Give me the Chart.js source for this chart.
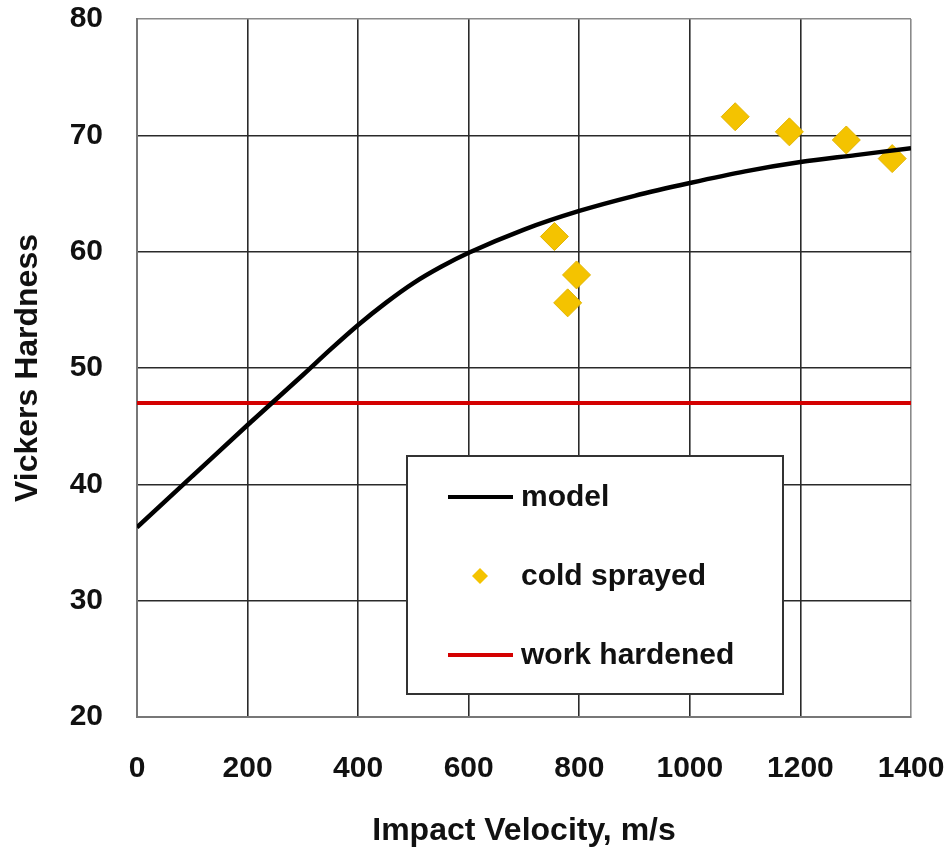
<!DOCTYPE html>
<html>
<head>
<meta charset="utf-8">
<title>Vickers Hardness vs Impact Velocity</title>
<script src="https://cdn.jsdelivr.net/npm/chart.js@4/dist/chart.umd.min.js"></script>
<style>
  html, body { margin: 0; padding: 0; background: #fff; }
  #wrap { width: 948px; height: 848px; position: relative; }
</style>
</head>
<body>
<div id="wrap"><canvas id="hardnessChart"></canvas></div>
<script>
// data
const modelVelocity = [0, 100, 200, 300, 350, 400, 450, 500, 550, 600, 700, 800, 900, 1000, 1100, 1200, 1300, 1400];
const modelHardness = [36.3, 40.7, 45.1, 49.4, 51.6, 53.7, 55.6, 57.3, 58.7, 59.9, 61.9, 63.5, 64.8, 65.9, 66.9, 67.7, 68.3, 68.9];

const sprayedVelocity = [755, 779, 795, 1082, 1180, 1283, 1366];
const sprayedHardness = [61.3, 55.6, 58.0, 71.6, 70.3, 69.6, 68.0];

const workHardenedVelocity = [0, 1400];
const workHardenedHardness = [47, 47];

const xTicks = [0, 200, 400, 600, 800, 1000, 1200, 1400];
const yTicks = [20, 30, 40, 50, 60, 70, 80];

const FONT = "'Liberation Sans', Arial, sans-serif";

const toPoints = (xs, ys) => xs.map((x, i) => ({ x: x, y: ys[i] }));

// legend box inside the plot, drawn over the grid
const boxLegend = {
  id: "boxLegend",
  afterDatasetsDraw(chart) {
    const { ctx, chartArea } = chart;
    const left = chartArea.left + 270;
    const top = chartArea.top + 437;
    const w = 376;
    const h = 238;

    ctx.save();
    ctx.fillStyle = "#fff";
    ctx.fillRect(left, top, w, h);
    ctx.strokeStyle = "#333";
    ctx.lineWidth = 2;
    ctx.strokeRect(left, top, w, h);

    ctx.font = "bold 30px " + FONT;
    ctx.textBaseline = "middle";

    chart.data.datasets.forEach((ds, i) => {
      const y = top + 41 + i * 79;
      if (ds.showLine === false) {
        const cx = left + 73;
        ctx.fillStyle = ds.backgroundColor;
        ctx.beginPath();
        ctx.moveTo(cx - 8, y);
        ctx.lineTo(cx, y - 8);
        ctx.lineTo(cx + 8, y);
        ctx.lineTo(cx, y + 8);
        ctx.closePath();
        ctx.fill();
      } else {
        ctx.strokeStyle = ds.borderColor;
        ctx.lineWidth = 4;
        ctx.beginPath();
        ctx.moveTo(left + 41, y);
        ctx.lineTo(left + 106, y);
        ctx.stroke();
      }
      ctx.fillStyle = "#111";
      ctx.fillText(ds.label, left + 114, y + 1);
    });
    ctx.restore();
  },
};

const gridColor = (edge) => (c) => (c.tick && c.tick.value === edge ? "#8a8a8a" : "#2a2a2a");

// keep the plot area where the reference has it
const noPadding = (scale) => {
  scale.paddingTop = 0;
  scale.paddingBottom = 0;
  scale.paddingLeft = 0;
  scale.paddingRight = 0;
};

new Chart(document.getElementById("hardnessChart"), {
  type: "scatter",
  data: {
    datasets: [
      {
        label: "model",
        data: toPoints(modelVelocity, modelHardness),
        showLine: true,
        borderColor: "#000",
        borderWidth: 4.5,
        pointRadius: 0,
        cubicInterpolationMode: "monotone",
      },
      {
        label: "cold sprayed",
        data: toPoints(sprayedVelocity, sprayedHardness),
        showLine: false,
        pointStyle: "rectRot",
        pointRadius: 14,
        pointHoverRadius: 14,
        backgroundColor: "#F4C300",
        borderColor: "#E2B400",
        borderWidth: 1,
      },
      {
        label: "work hardened",
        data: toPoints(workHardenedVelocity, workHardenedHardness),
        showLine: true,
        borderColor: "#D40000",
        borderWidth: 4,
        pointRadius: 0,
      },
    ],
  },
  options: {
    responsive: true,
    maintainAspectRatio: false,
    animation: false,
    layout: { padding: { top: 19, right: 37, left: 0, bottom: 0 } },
    plugins: {
      legend: { display: false },
      tooltip: { enabled: false },
    },
    scales: {
      x: {
        type: "linear",
        min: 0,
        max: 1400,
        afterBuildTicks: (scale) => {
          scale.ticks = xTicks.map((v) => ({ value: v }));
        },
        afterFit: (scale) => {
          scale.height = 131;
          noPadding(scale);
        },
        grid: { color: gridColor(1400), lineWidth: 1.6, drawTicks: false },
        border: { color: "#777", width: 2 },
        ticks: {
          color: "#111",
          padding: 34,
          maxRotation: 0,
          callback: (v) => String(v),
          font: { family: FONT, size: 30, weight: "bold" },
        },
        title: {
          display: true,
          text: "Impact Velocity, m/s",
          color: "#111",
          padding: { top: 0, bottom: 0 },
          font: { family: FONT, size: 32, weight: "bold", lineHeight: 1.05 },
        },
      },
      y: {
        type: "linear",
        min: 20,
        max: 80,
        afterBuildTicks: (scale) => {
          scale.ticks = yTicks.map((v) => ({ value: v }));
        },
        afterFit: (scale) => {
          scale.width = 137;
          noPadding(scale);
        },
        grid: { color: gridColor(80), lineWidth: 1.6, drawTicks: false },
        border: { color: "#777", width: 2 },
        ticks: {
          color: "#111",
          padding: 34,
          callback: (v) => String(v),
          font: { family: FONT, size: 30, weight: "bold" },
        },
        title: {
          display: true,
          text: "Vickers Hardness",
          color: "#111",
          padding: { top: 11, bottom: 0 },
          font: { family: FONT, size: 32, weight: "bold", lineHeight: 1.1 },
        },
      },
    },
  },
  plugins: [boxLegend],
});
</script>
</body>
</html>
